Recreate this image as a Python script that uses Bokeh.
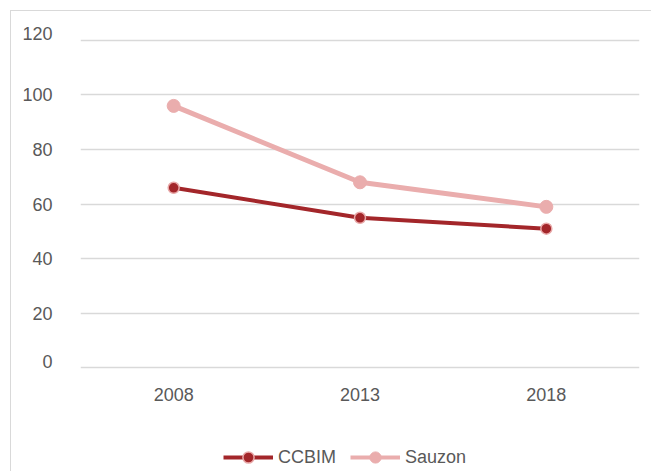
from bokeh.plotting import figure
from bokeh.layouts import column
from bokeh.models import FactorRange, Range1d, FixedTicker, Legend, LegendItem
from bokeh.embed import file_html
from bokeh.resources import INLINE

years = ["2008", "2013", "2018"]
ccbim = [66, 55, 51]
sauzon = [96, 68, 59]
y_ticks = [0, 20, 40, 60, 80, 100, 120]
series_names = ["CCBIM", "Sauzon"]

DARK = "#A3262A"
PINK = "#EAADAD"
FONT = "Liberation Sans"
TXT = "#595959"

p = figure(width=640, height=408, x_range=FactorRange(*years, range_padding=0),
           y_range=Range1d(-0.6, 124), output_backend="svg", toolbar_location=None,
           min_border_left=69, min_border_right=12, min_border_top=18, min_border_bottom=50)
p.outline_line_color = None
p.background_fill_color = "white"
p.border_fill_color = "white"

# the end labels (0 and 120) sit just above their gridlines, as in the original
lift = 2.5
label_pos = [y_ticks[0] + lift] + y_ticks[1:-1] + [y_ticks[-1] + lift]
p.yaxis.ticker = FixedTicker(ticks=label_pos)
p.yaxis.major_label_overrides = {pos: str(t) for pos, t in zip(label_pos, y_ticks)}

p.xgrid.grid_line_color = None
p.ygrid.grid_line_color = "#d9d9d9"
p.ygrid.grid_line_width = 1.5
p.ygrid.ticker = FixedTicker(ticks=y_ticks)

for ax in (p.xaxis[0], p.yaxis[0]):
    ax.axis_line_color = None
    ax.major_tick_line_color = None
    ax.minor_tick_line_color = None
    ax.major_label_text_font = FONT
    ax.major_label_text_font_size = "18px"
    ax.major_label_text_color = TXT
p.yaxis.major_label_standoff = 22
p.xaxis.major_label_standoff = 12

p.line(years, ccbim, line_color=DARK, line_width=4)
p.scatter(years, ccbim, size=11, fill_color=DARK, line_color="#E8A8A8", line_width=1.5)
p.line(years, sauzon, line_color=PINK, line_width=5)
p.scatter(years, sauzon, size=13, fill_color=PINK, line_color=PINK)

# legend strip below the chart (series drawn off-range, only their legend glyphs show)
lg = figure(width=640, height=52, x_range=FactorRange(*years), y_range=Range1d(1000, 1001),
            output_backend="svg", toolbar_location=None,
            x_axis_location=None, y_axis_location=None,
            min_border_left=0, min_border_right=0, min_border_top=0, min_border_bottom=0)
lg.outline_line_color = None
lg.grid.visible = False
lg.background_fill_color = "white"
lg.border_fill_color = "white"
r1 = lg.line(years, ccbim, line_color=DARK, line_width=4)
m1 = lg.scatter(years, ccbim, size=11, fill_color=DARK, line_color="#E8A8A8", line_width=1.5)
r2 = lg.line(years, sauzon, line_color=PINK, line_width=4)
m2 = lg.scatter(years, sauzon, size=12, fill_color=PINK, line_color=PINK)
legend = Legend(items=[LegendItem(label=series_names[0], renderers=[r1, m1]),
                       LegendItem(label=series_names[1], renderers=[r2, m2])],
                orientation="horizontal", location=(143, 0),
                label_text_font=FONT, label_text_font_size="18px", label_text_color=TXT,
                glyph_width=50, glyph_height=28, label_standoff=5, spacing=14,
                border_line_color=None, background_fill_alpha=0, margin=0, padding=0)
lg.add_layout(legend, "center")

layout = column(p, lg, spacing=0,
                styles={"margin-left": "10px", "margin-top": "10px",
                        "border-left": "1px solid #d9d9d9", "border-top": "1px solid #d9d9d9"})

open("out.html", "w").write(file_html(layout, INLINE))
